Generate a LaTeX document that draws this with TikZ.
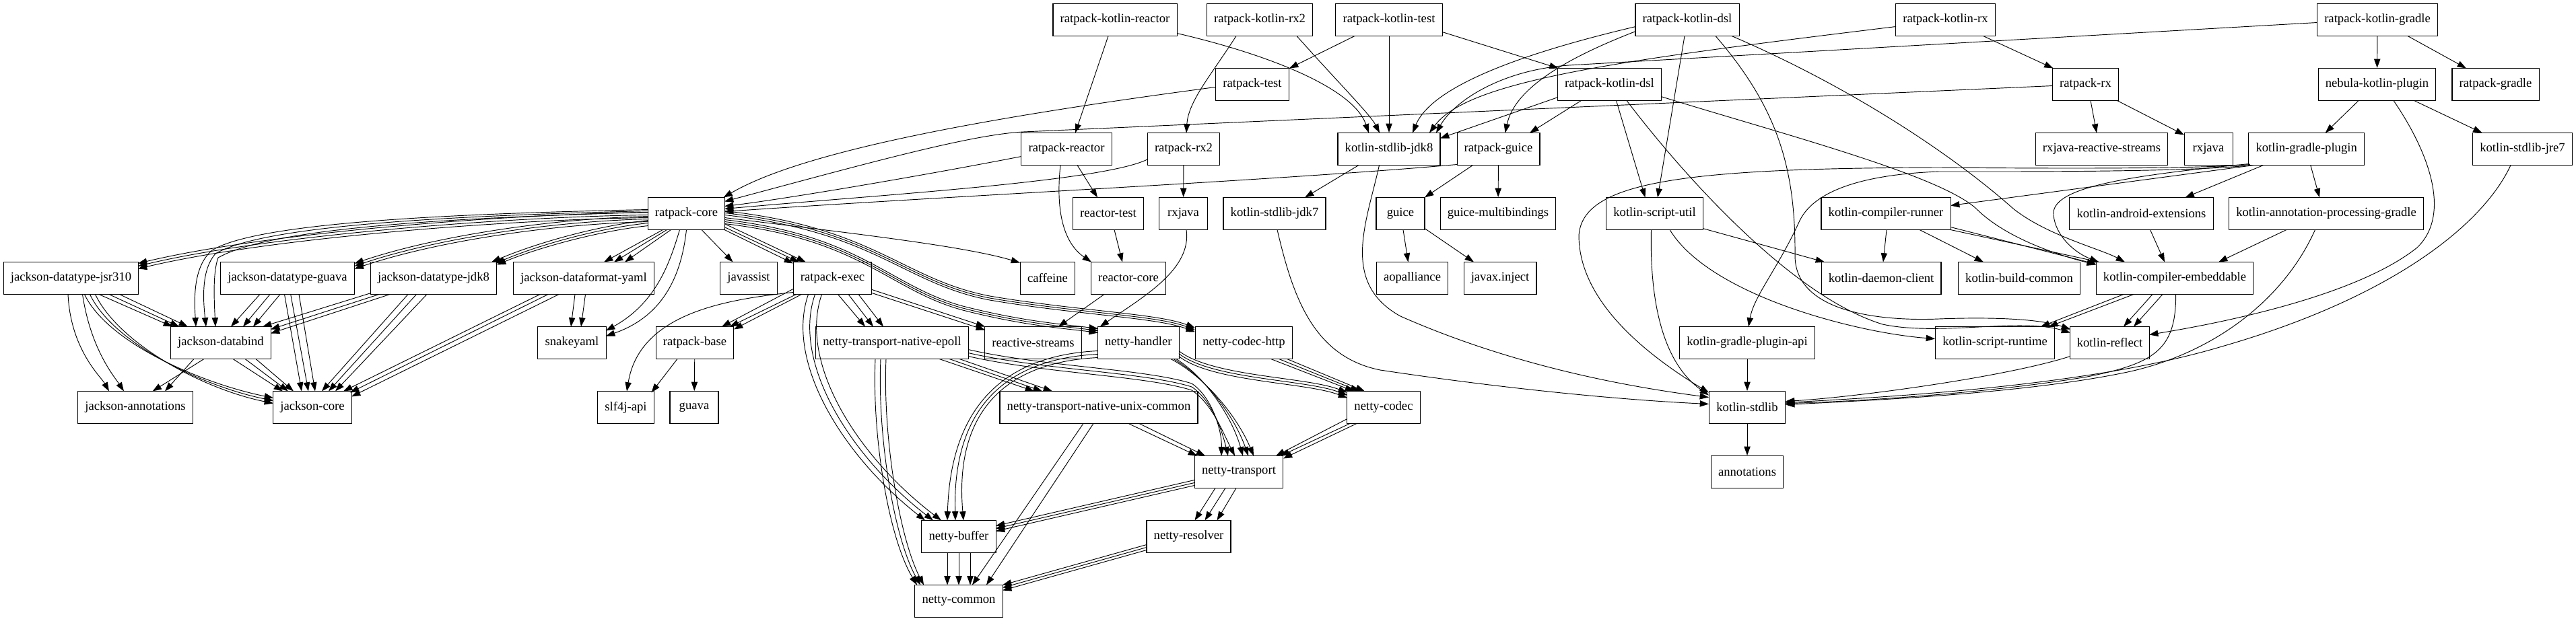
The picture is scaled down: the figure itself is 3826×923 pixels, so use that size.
\documentclass[tikz,border=0pt]{standalone}
\usepackage{fontspec}
\setmainfont{Liberation Serif}
\usetikzlibrary{arrows.meta,calc}
\begin{document}
\begin{tikzpicture}[x=0.75pt,y=-0.75pt,
  nd/.style={draw,line width=0.8pt,fill=white,minimum height=36pt,minimum width=54pt,inner xsep=8pt,inner ysep=0pt,font=\fontsize{14}{16}\selectfont},
  dep/.style={line width=0.7pt,-{Triangle[length=10pt,width=7pt]}}]
\fill[white] (0,0) rectangle (3826,923);
\useasboundingbox (0,0) rectangle (3826,923);
% row 0
\node[nd] (rkr) at (1656,29.5) {ratpack-kotlin-reactor};
\node[nd] (rkrx2) at (1871,29.5) {ratpack-kotlin-rx2};
\node[nd] (rkt) at (2063,29.5) {ratpack-kotlin-test};
\node[nd] (rkd) at (2506,29.5) {ratpack-kotlin-dsl};
\node[nd] (rkrx) at (2889.5,29.5) {ratpack-kotlin-rx};
\node[nd] (rkg) at (3531,29.5) {ratpack-kotlin-gradle};
% row 1
\node[nd] (rt) at (1860,125.5) {ratpack-test};
\node[nd] (rkd2) at (2390.5,125.5) {ratpack-kotlin-dsl};
\node[nd] (rrx) at (3097.5,125.5) {ratpack-rx};
\node[nd] (nkp) at (3530.5,125.5) {nebula-kotlin-plugin};
\node[nd] (rg) at (3706.5,125.5) {ratpack-gradle};
% row 2
\node[nd] (rr) at (1584,221.5) {ratpack-reactor};
\node[nd] (rrx2) at (1758,221.5) {ratpack-rx2};
\node[nd] (ksj8) at (2063,221.5) {kotlin-stdlib-jdk8};
\node[nd] (rgu) at (2225.5,221.5) {ratpack-guice};
\node[nd] (rxrs) at (3121.5,221.5) {rxjava-reactive-streams};
\node[nd] (rxj2) at (3280,221.5) {rxjava};
\node[nd] (kgp) at (3425.7,221.5) {kotlin-gradle-plugin};
\node[nd] (ksjre7) at (3746.5,221.5) {kotlin-stdlib-jre7};
% row 3
\node[nd] (rc) at (1019.5,317.5) {ratpack-core};
\node[nd] (rtst) at (1646,317.5) {reactor-test};
\node[nd] (rxj) at (1757.5,317.5) {rxjava};
\node[nd] (ksj7) at (1893,317.5) {kotlin-stdlib-jdk7};
\node[nd] (gu) at (2080,317.5) {guice};
\node[nd] (gm) at (2225,317.5) {guice-multibindings};
\node[nd] (ksu) at (2457.5,317.5) {kotlin-script-util};
\node[nd] (kcr) at (2801,317.5) {kotlin-compiler-runner};
\node[nd] (kae) at (3180.5,317.5) {kotlin-android-extensions};
\node[nd] (kapg) at (3455,317.5) {kotlin-annotation-processing-gradle};
% row 4
\node[nd] (jj) at (105.5,413.5) {jackson-datatype-jsr310};
\node[nd] (jg) at (427,413.5) {jackson-datatype-guava};
\node[nd] (jd8) at (644,413.5) {jackson-datatype-jdk8};
\node[nd] (jy) at (867,413.5) {jackson-dataformat-yaml};
\node[nd] (jas) at (1112,413.5) {javassist};
\node[nd] (re) at (1236.5,413.5) {ratpack-exec};
\node[nd] (caf) at (1556,413.5) {caffeine};
\node[nd] (rcore) at (1676,413.5) {reactor-core};
\node[nd] (aop) at (2097.5,413.5) {aopalliance};
\node[nd] (jinj) at (2228,413.5) {javax.inject};
\node[nd] (kdc) at (2794,413.5) {kotlin-daemon-client};
\node[nd] (kbc) at (2999,413.5) {kotlin-build-common};
\node[nd] (kce) at (3230,413.5) {kotlin-compiler-embeddable};
% row 5
\node[nd] (jdb) at (328,509.5) {jackson-databind};
\node[nd] (sy) at (849.5,509.5) {snakeyaml};
\node[nd] (rb) at (1032,509.5) {ratpack-base};
\node[nd] (ntne) at (1325,509.5) {netty-transport-native-epoll};
\node[nd] (rs) at (1534.5,509.5) {reactive-streams};
\node[nd] (nh) at (1690.8,509.5) {netty-handler};
\node[nd] (nch) at (1847.5,509.5) {netty-codec-http};
\node[nd] (kgpa) at (2595,509.5) {kotlin-gradle-plugin-api};
\node[nd] (ksr) at (2963,509.5) {kotlin-script-runtime};
\node[nd] (kr) at (3133.5,509.5) {kotlin-reflect};
% row 6
\node[nd] (ja) at (201,605.5) {jackson-annotations};
\node[nd] (jc) at (464,605.5) {jackson-core};
\node[nd] (slf) at (929.5,605.5) {slf4j-api};
\node[nd] (gv) at (1031,605.5) {guava};
\node[nd] (ntnuc) at (1632,605.5) {netty-transport-native-unix-common};
\node[nd] (nc) at (2055,605.5) {netty-codec};
\node[nd] (ks) at (2595,605.5) {kotlin-stdlib};
% rows 7-9
\node[nd] (nt) at (1840,701.5) {netty-transport};
\node[nd] (ann) at (2595,701.5) {annotations};
\node[nd] (nb) at (1424,797.5) {netty-buffer};
\node[nd] (nr) at (1765.5,797.5) {netty-resolver};
\node[nd] (ncm) at (1424,893.5) {netty-common};

% ---------- edges from top row
\draw[dep] ($(rkr)+(-10,24)$) -- ($(rr)+(13,-24)$);
\draw[dep] ($(rkr)+(92,20)$) .. controls (1880,80) and (2010,130) .. ($(ksj8)+(-30,-24)$);
\draw[dep] ($(rkrx2)+(-35,24)$) .. controls (1800,110) and (1765,150) .. ($(rrx2)+(4,-24)$);
\draw[dep] ($(rkrx2)+(55,24)$) .. controls (1985,120) and (2035,170) .. ($(ksj8)+(-14,-24)$);
\draw[dep] (rkt) -- (ksj8);
\draw[dep] ($(rkt)+(-51,24)$) -- ($(rt)+(55,-24)$);
\draw[dep] ($(rkt)+(79,18)$) -- ($(rkd2)+(-76,-24)$);
\draw[dep] ($(rkd)+(-76.5,10)$) .. controls (2300,70) and (2130,120) .. ($(ksj8)+(35,-24)$);
\draw[dep] ($(rkd)+(-76.5,17)$) .. controls (2330,85) and (2250,130) .. ($(rgu)+(10,-24)$);
\draw[dep] ($(rkd)+(-4,24)$) -- ($(ksu)+(4.5,-24)$);
\draw[dep] ($(rkd)+(42,24)$) .. controls (2640,160) and (2667,250) .. (2666,380) .. controls (2666,460) and (2780,478) .. (2880,474) .. controls (2960,471) and (3030,474) .. ($(kr)+(-58.5,-20)$);
\draw[dep] ($(rkd)+(66,24)$) .. controls (2750,130) and (2900,230) .. (2990,310) .. controls (3040,350) and (3120,370) .. ($(kce)+(-74,-24)$);
\draw[dep] ($(rkrx)+(-73.5,10)$) .. controls (2400,90) and (2180,120) .. ($(ksj8)+(60,-24)$);
\draw[dep] ($(rkrx)+(56,24)$) -- ($(rrx)+(-48,-24)$);
\draw[dep] ($(rkg)+(-89.5,4)$) -- (2330,97) .. controls (2230,104) and (2160,150) .. ($(ksj8)+(70,-24)$);
\draw[dep] (rkg) -- (nkp);
\draw[dep] ($(rkg)+(45,24)$) -- ($(rg)+(-43.5,-24)$);

% ---------- row 1
\draw[dep] ($(rt)+(-55,4)$) .. controls (1500,170) and (1200,220) .. ($(rc)+(55,-24)$);
\draw[dep] ($(rkd2)+(-76.5,19)$) -- ($(ksj8)+(76,-16)$);
\draw[dep] ($(rkd2)+(-42,24)$) -- ($(rgu)+(46.5,-24)$);
\draw[dep] ($(rkd2)+(10,24)$) -- ($(ksu)+(-14,-24)$);
\draw[dep] ($(rkd2)+(25.5,24)$) .. controls (2500,260) and (2660,440) .. (2796,482) .. controls (2880,500) and (3000,472) .. ($(kr)+(-58.5,-15)$);
\draw[dep] ($(rkd2)+(76.5,18)$) .. controls (2650,200) and (2880,260) .. (2935,310) .. controls (2980,355) and (3060,380) .. ($(kce)+(-117,-20)$);
\draw[dep] ($(rrx)+(-48.5,2)$) -- (1520,196) .. controls (1440,200) and (1280,245) .. ($(rc)+(56.5,-18)$);
\draw[dep] ($(nkp)+(-27.5,24)$) -- ($(kgp)+(28,-24)$);
\draw[dep] ($(nkp)+(55,24)$) -- ($(ksjre7)+(-60,-24)$);
\draw[dep] ($(nkp)+(24.5,24)$) .. controls (3610,230) and (3640,320) .. (3590,368) .. controls (3500,440) and (3300,480) .. ($(kr)+(58.5,-12)$);
\draw[dep] ($(rrx)+(7.5,24)$) -- ($(rxrs)+(-7.5,-24)$);
\draw[dep] ($(rrx)+(47,24)$) -- ($(rxj2)+(-36,-21)$);

% ---------- row 2
\draw[dep] ($(rr)+(16,24)$) -- ($(rtst)+(-16,-24)$);
\draw[dep] ($(rr)+(-9,24)$) .. controls (1568,310) and (1578,360) .. ($(rcore)+(-55,-24)$);
\draw[dep] ($(rr)+(-67,11)$) .. controls (1350,265) and (1150,298) .. ($(rc)+(56.5,-11)$);
\draw[dep] ($(rrx2)+(-53,15)$) .. controls (1640,270) and (1300,290) .. ($(rc)+(56.5,-7)$);
\draw[dep] (rrx2) -- (rxj);
\draw[dep] ($(ksj8)+(-45,24)$) -- ($(ksj7)+(45,-24)$);
\draw[dep] ($(ksj8)+(-14.5,24)$) .. controls (2030,330) and (1990,420) .. (2080,470) .. controls (2250,545) and (2420,575) .. ($(ks)+(-57,-15)$);
\draw[dep] ($(rgu)+(-61.5,23)$) .. controls (1900,268) and (1400,292) .. ($(rc)+(56.5,-3)$);
\draw[dep] ($(rgu)+(-38,24)$) -- ($(gu)+(36,-24)$);
\draw[dep] (rgu) -- (gm);
\draw[dep] ($(kgp)+(-78,24)$) -- ($(kcr)+(96,-12)$);
\draw[dep] ($(kgp)+(-64,24)$) -- ($(kae)+(65,-24)$);
\draw[dep] ($(kgp)+(6,24)$) -- ($(kapg)+(-10,-24)$);
\draw[dep] ($(kgp)+(-85,22)$) .. controls (3150,262) and (3045,280) .. (3050,320) .. controls (3053,350) and (3080,375) .. ($(kce)+(-113,-24)$);
\draw[dep] ($(kgp)+(-84,23)$) .. controls (3250,252) and (3000,250) .. (2880,249) .. controls (2500,250) and (2350,270) .. (2345,350) .. controls (2345,450) and (2450,530) .. ($(ks)+(-57,-22)$);
\draw[dep] ($(kgp)+(-82,24)$) .. controls (3250,256) and (3000,255) .. (2880,255) .. controls (2750,260) and (2690,290) .. (2672,330) .. controls (2640,400) and (2605,440) .. ($(kgpa)+(2,-24)$);
\draw[dep] ($(ksjre7)+(-17.5,24)$) .. controls (3690,330) and (3560,440) .. (3300,515) .. controls (3100,575) and (2800,590) .. ($(ks)+(57,-7)$);

% ---------- ratpack-core fan-out
\draw[dep] ($(rc)+(22.5,24)$) -- ($(jas)+(-23.5,-24)$);
\draw[dep] ($(rc)+(56.5,24)$) -- ($(re)+(-58.5,-22)$);
\draw[dep] ($(rc)+(56.5,20)$) -- ($(re)+(-50,-24)$);
\draw[dep] ($(rc)+(56.5,15)$) -- ($(re)+(-40,-24)$);
\draw[dep] ($(rc)+(56.5,6)$) .. controls (1250,345) and (1430,365) .. ($(caf)+(-41,-23)$);
\foreach \d in {0,3,6}
  \draw[dep] ($(rc)+(56.5,-4+\d)$) .. controls (1300,338+\d) and (1340,415+\d) .. (1470,440+\d) .. controls (1600,462+\d) and (1720,466+\d) .. ($(nch)+(-72.5,-22+\d)$);
\foreach \d in {0,3,6}
  \draw[dep] ($(rc)+(56.5,9+\d)$) .. controls (1280,350+\d) and (1320,425+\d) .. (1430,455+\d) .. controls (1520,478+\d) and (1580,482+\d) .. ($(nh)+(-60,-21+\d)$);
\foreach \d in {0,4,8}
  \draw[dep] ($(rc)+(-56.5,-2+\d)$) .. controls (760,318+\d) and (400,345+\d) .. ($(jj)+(99.5,-22+\d)$);
\foreach \d in {0,4,8}
  \draw[dep] ($(rc)+(-56.5,4+\d)$) .. controls (820,325+\d) and (650,350+\d) .. ($(jg)+(99.5,-22+\d)$);
\foreach \d/\xb in {0/86,4/92,8/94}
  \draw[dep] ($(rc)+(-56.5,10+\d)$) .. controls (890,335+\d) and (800,360+\d) .. ($(jd8)+(\xb,-24+\d/2)$);
\foreach \xa/\xb in {-35/30,-29/45,-23/61}
  \draw[dep] ($(rc)+(\xa,24)$) -- ($(jy)+(\xb,-24)$);
\draw[dep] ($(rc)+(-56.5,-6)$) .. controls (650,318) and (380,332) .. (315,372) .. controls (288,395) and (288,440) .. ($(jdb)+(-37,-24)$);
\draw[dep] ($(rc)+(-56.5,-4)$) .. controls (650,321) and (390,336) .. (320,377) .. controls (300,400) and (301,440) .. ($(jdb)+(-22,-24)$);
\draw[dep] ($(rc)+(-56.5,-2)$) .. controls (650,324) and (400,340) .. (324,383) .. controls (316,405) and (318,445) .. ($(jdb)+(-8,-24)$);
\draw[dep] ($(rc)+(-10,24)$) .. controls (995,390) and (975,450) .. ($(sy)+(50.5,-18)$);
\draw[dep] ($(rc)+(0,24)$) .. controls (1012,410) and (985,470) .. ($(sy)+(50.5,-10)$);

% ---------- ratpack-exec
\draw[dep] ($(re)+(-58.5,21)$) .. controls (1080,445) and (950,465) .. ($(slf)+(1.5,-24)$);
\draw[dep] ($(re)+(-58.5,16)$) -- ($(rb)+(40,-24)$);
\draw[dep] ($(re)+(-54,24)$) -- ($(rb)+(52,-24)$);
\draw[dep] ($(re)+(-46,24)$) -- ($(rb)+(58,-20)$);
\foreach \xa/\xb in {8/-40,23.5/-28,38.5/-13}
  \draw[dep] ($(re)+(\xa,24)$) -- ($(ntne)+(\xb,-24)$);
\draw[dep] ($(re)+(58.5,17)$) -- ($(rs)+(-71.5,-24)$);
\draw[dep] ($(re)+(58.5,22)$) -- ($(rs)+(-71.5,-19)$);
\foreach \xa/\xb/\d in {-36/-50/0,-26/-38/10,-16/-26/20}
  \draw[dep] ($(re)+(\xa,24)$) .. controls (1165+\d,540) and (1255+\d,680) .. ($(nb)+(\xb,-24)$);

% ---------- netty
\foreach \xa/\xb in {70/-96,85/-84,100/-69}
  \draw[dep] ($(ntne)+(\xa,24)$) -- ($(ntnuc)+(\xb,-24)$);
\foreach \d/\xb in {0/-26,5/-16,10/-6}
  \draw[dep] ($(ntne)+(113,10+\d)$) .. controls (1550,545+\d) and (1700,548+\d) .. (1770,570+\d) .. controls (1800,590+\d) and (1815,640) .. ($(nt)+(\xb,-24)$);
\foreach \d in {0,8,16}
  \draw[dep] ($(ntne)+(-25+\d,24)$) .. controls (1295+\d,650) and (1320+\d,800) .. ($(ncm)+(-62+\d/2*1.25,-24)$);
\foreach \ya/\d/\xb in {12/0/-17,17/5/-5,22/10/7}
  \draw[dep] ($(nh)+(-60,\ya)$) .. controls (1495,528+\d) and (1412+\d/2,600+\d) .. ($(nb)+(\xb,-24)$);
\foreach \d/\xb in {0/6,4/14,8/22}
  \draw[dep] ($(nh)+(56-\d,24)$) .. controls (1790,560) and (1830+\d,620) .. ($(nt)+(\xb,-24)$);
\foreach \d in {0,4,8}
  \draw[dep] ($(nh)+(60,12+\d)$) .. controls (1800,560+\d) and (1940,560+\d) .. ($(nc)+(-54,-22+\d)$);
\foreach \xa/\xb in {40/-44,52/-36,64/-28}
  \draw[dep] ($(nch)+(\xa,24)$) -- ($(nc)+(\xb,-24)$);
\foreach \xa/\ya/\xb/\yb in {-54/17/55/-24,-50/24/62/-24,-40/24/66/-20}
  \draw[dep] ($(nc)+(\xa,\ya)$) -- ($(nt)+(\xb,\yb)$);
\draw[dep] ($(ntnuc)+(44,24)$) -- ($(nt)+(-62,-24)$);
\draw[dep] ($(ntnuc)+(60,24)$) -- ($(nt)+(-50,-24)$);
\draw[dep] ($(ntnuc)+(-23,24)$) -- ($(ncm)+(20,-24)$);
\draw[dep] ($(ntnuc)+(-8,24)$) -- ($(ncm)+(41,-24)$);
\foreach \d in {0,4,8}
  \draw[dep] ($(nt)+(-66,12+\d)$) -- ($(nb)+(55,-16+\d)$);
\foreach \xa/\xb in {-35/9,-20/24,-4/42}
  \draw[dep] ($(nt)+(\xa,24)$) -- ($(nr)+(\xb,-24)$);
\foreach \d in {-17,0,17}
  \draw[dep] ($(nb)+(\d,24)$) -- ($(ncm)+(\d,-24)$);
\foreach \d in {0,4,8}
  \draw[dep] ($(nr)+(-62.5,12+\d)$) -- ($(ncm)+(65,-24+\d)$);

% ---------- misc middle
\draw[dep] ($(rxj)+(4.5,24)$) .. controls (1770,400) and (1700,440) .. ($(nh)+(-57,-24)$);
\draw[dep] ($(rcore)+(-36,24)$) -- ($(rs)+(37.5,-24)$);
\draw[dep] ($(rtst)+(9,24)$) -- ($(rcore)+(-9,-24)$);
\draw[dep] ($(gu)+(4,24)$) -- ($(aop)+(-6,-24)$);
\draw[dep] ($(gu)+(36,22)$) -- ($(jinj)+(-39,-24)$);
\draw[dep] ($(rb)+(-26,24)$) -- ($(slf)+(38,-22)$);
\draw[dep] (rb) -- (gv);
\draw[dep] ($(ksj7)+(4,24)$) .. controls (1920,440) and (1950,530) .. (2050,550) .. controls (2250,580) and (2420,595) .. ($(ks)+(-57,-5)$);

% ---------- kotlin
\draw[dep] ($(kcr)+(1,24)$) -- ($(kdc)+(3,-24)$);
\draw[dep] ($(kcr)+(50,24)$) -- ($(kbc)+(-53,-24)$);
\draw[dep] ($(kcr)+(96,20)$) -- ($(kce)+(-117,-21)$);
\draw[dep] ($(kcr)+(96,24)$) -- ($(kce)+(-112,-24)$);
\draw[dep] ($(kae)+(13,24)$) -- ($(kce)+(-15,-24)$);
\draw[dep] ($(kapg)+(-59,24)$) -- ($(kce)+(65,-24)$);
\draw[dep] ($(kapg)+(-16.5,24)$) .. controls (3390,450) and (3280,530) .. (3150,555) .. controls (3000,585) and (2780,595) .. ($(ks)+(57,-4)$);
\draw[dep] ($(kce)+(-76,24)$) -- ($(ksr)+(68,-24)$);
\draw[dep] ($(kce)+(-61,24)$) -- ($(ksr)+(80,-24)$);
\draw[dep] ($(kce)+(-33,24)$) -- ($(kr)+(20.5,-24)$);
\draw[dep] ($(kce)+(-18,24)$) -- ($(kr)+(35.5,-24)$);
\draw[dep] ($(kce)+(1.6,24)$) .. controls (3232,520) and (3200,540) .. (3100,560) .. controls (2950,585) and (2750,597) .. ($(ks)+(57,-6)$);
\draw[dep] ($(kr)+(-58.5,20)$) .. controls (2980,560) and (2760,590) .. ($(ks)+(57,-9)$);
\draw[dep] ($(ksu)+(-5,24)$) .. controls (2450,450) and (2470,540) .. ($(ks)+(-57,-18)$);
\draw[dep] ($(ksu)+(22.5,24)$) .. controls (2540,440) and (2760,495) .. ($(ksr)+(-89,-6)$);
\draw[dep] ($(ksu)+(71.5,22)$) -- ($(kdc)+(-84,-24)$);
\draw[dep] (kgpa) -- (ks);
\draw[dep] (ks) -- (ann);

% ---------- jackson
\foreach \xa/\xb in {41.5/-72,56.5/-62,72/-49}
  \draw[dep] ($(jj)+(\xa,24)$) -- ($(jdb)+(\xb,-24)$);
\foreach \xa/\xb in {-41/15,-26/33,-11/48}
  \draw[dep] ($(jg)+(\xa,24)$) -- ($(jdb)+(\xb,-24)$);
\foreach \xa/\ya/\xb/\yb in {-93/22/62/-24,-81/24/74/-20,-65/24/74/-14}
  \draw[dep] ($(jd8)+(\xa,\ya)$) -- ($(jdb)+(\xb,\yb)$);
\draw[dep] ($(jj)+(-4.5,24)$) .. controls (105,520) and (150,560) .. ($(ja)+(-39,-24)$);
\draw[dep] ($(jj)+(17,24)$) .. controls (135,520) and (170,560) .. ($(ja)+(-17,-24)$);
\foreach \d in {0,8,16}
  \draw[dep] ($(jj)+(20+\d,24)$) .. controls (160+\d,510) and (300,570+\d/2) .. ($(jc)+(-58,-14+\d/2)$);
\draw[dep] ($(jdb)+(-25,24)$) -- ($(ja)+(25.6,-24)$);
\draw[dep] ($(jdb)+(-40,24)$) -- ($(ja)+(44,-24)$);
\foreach \xa/\xb in {18/-44,36/-36,52/-28}
  \draw[dep] ($(jdb)+(\xa,24)$) -- ($(jc)+(\xb,-24)$);
\foreach \xa/\xb in {-4.5/-16,4.7/-6,17/4}
  \draw[dep] ($(jg)+(\xa,24)$) -- ($(jc)+(\xb,-24)$);
\foreach \xa/\xb in {-38/14,-25.5/24,-10/34}
  \draw[dep] ($(jd8)+(\xa,24)$) -- ($(jc)+(\xb,-24)$);
\foreach \xa/\xb/\yb in {-65/46/-24,-53/56/-22,-37/58/-16}
  \draw[dep] ($(jy)+(\xa,24)$) -- ($(jc)+(\xb,\yb)$);
\draw[dep] ($(jy)+(-13,24)$) -- ($(sy)+(-1.5,-24)$);
\draw[dep] ($(jy)+(2.5,24)$) -- ($(sy)+(13.5,-24)$);
\end{tikzpicture}
\end{document}
